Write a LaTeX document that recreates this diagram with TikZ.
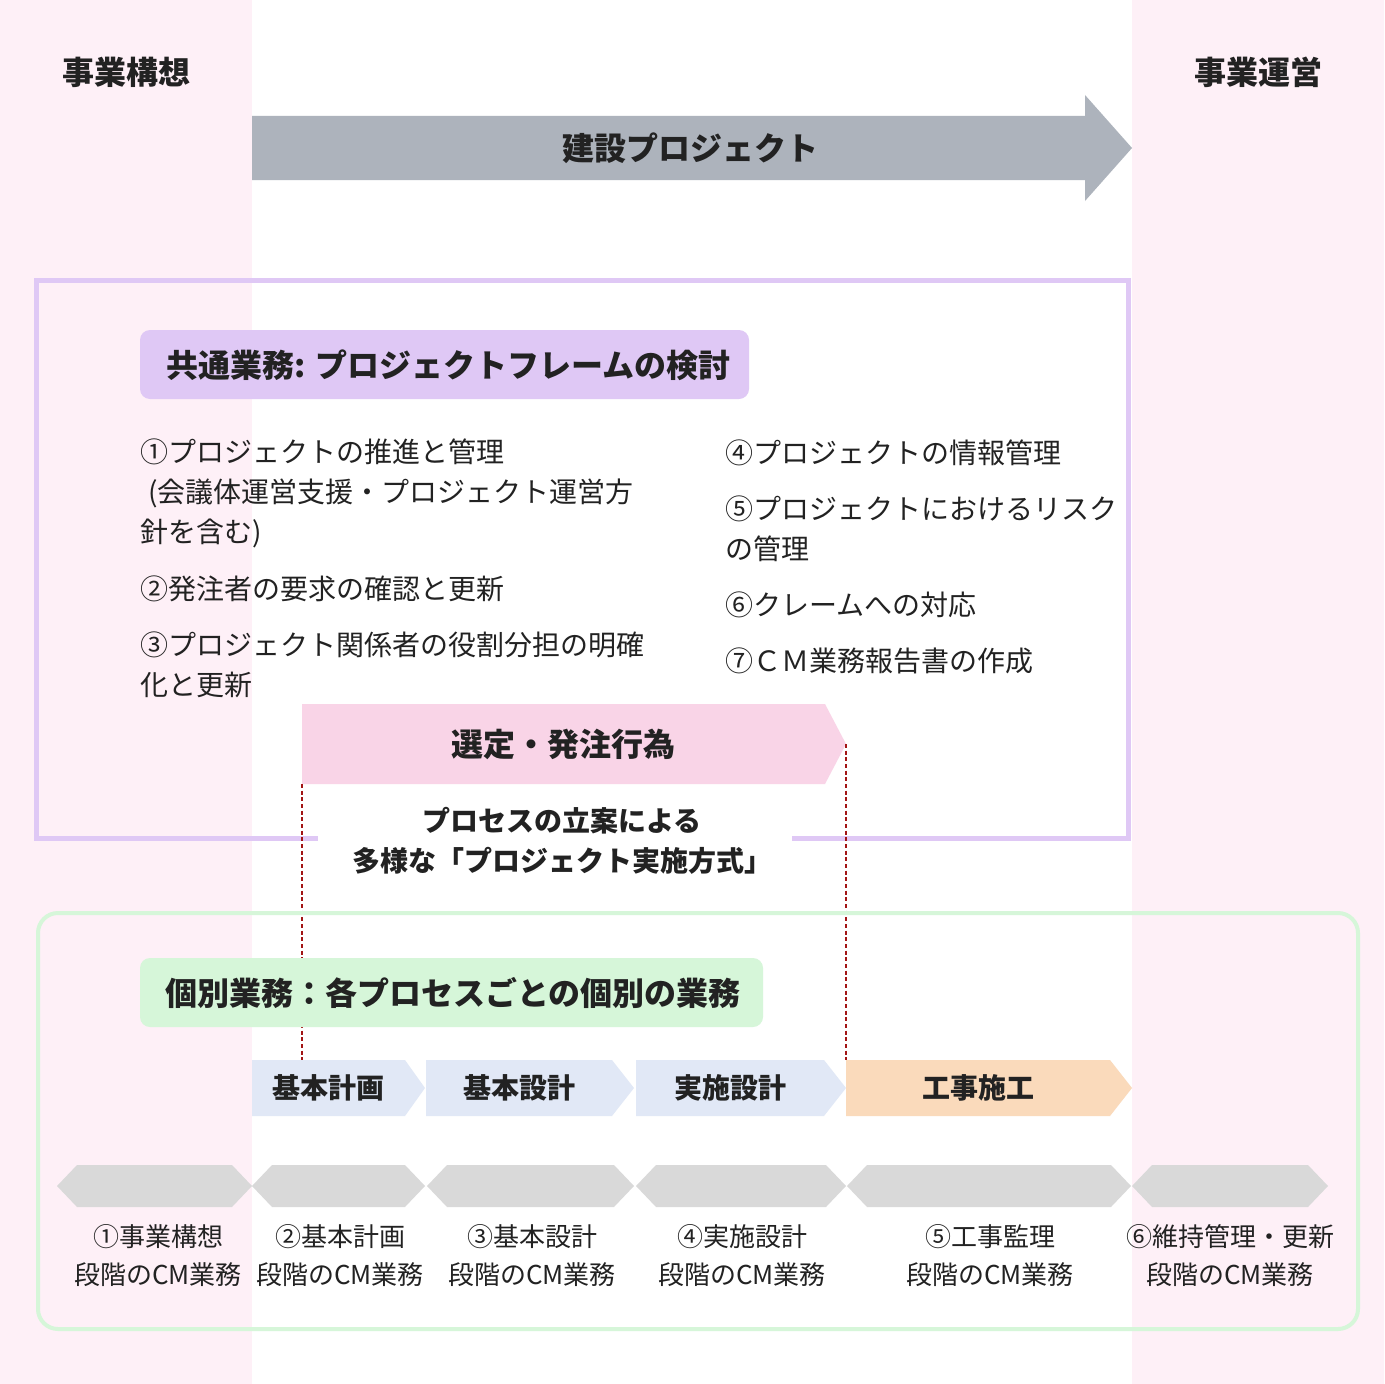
\documentclass[tikz,border=0pt]{standalone}
\usepackage{fontspec}
\setmainfont{Noto Sans CJK JP}
\definecolor{pinkbg}{HTML}{FEF0F7}
\definecolor{arrowgray}{HTML}{ADB3BC}
\definecolor{lilac}{HTML}{DFC8F5}
\definecolor{pinkchev}{HTML}{F9D4E7}
\definecolor{mint}{HTML}{D6F6D9}
\definecolor{bluechev}{HTML}{E1E8F6}
\definecolor{peach}{HTML}{FADABB}
\definecolor{hexgray}{HTML}{D9D9D9}
\definecolor{dotred}{HTML}{A31515}
\definecolor{ink}{HTML}{222222}
\tikzset{
  headtext/.style={font=\fontsize{24}{30}\selectfont\bfseries, text=ink, inner sep=0pt, align=center},
  itemtext/.style={font=\fontsize{21}{30}\selectfont, text=ink, inner sep=0pt, align=left, anchor=west},
  stagetext/.style={font=\fontsize{21}{26}\selectfont\bfseries, text=ink, inner sep=0pt},
  cmtext/.style={font=\fontsize{19.5}{28.5}\selectfont, text=ink, inner sep=0pt, align=center},
  guide/.style={dotred, line width=1.1pt, dash pattern=on 3pt off 2pt},
}
\begin{document}
\begin{tikzpicture}[x=0.75pt,y=0.75pt,yscale=-1,xscale=1]
\useasboundingbox (0,0) rectangle (1384,1384);
%Shape: Rectangle [background]
\fill[white] (0,0) rectangle (1384,1384);
\fill[pinkbg] (0,0) rectangle (252,1384);
\fill[pinkbg] (1132,0) rectangle (1384,1384);
% Text Node
\node[headtext] (kousou) at (126,72) {事業構想};
\node[headtext] (unei) at (1258,72) {事業運営};
%Shape: Right Arrow
\fill[arrowgray] (252,116) -- (1085,116) -- (1085,95) -- (1132,148) -- (1085,201) -- (1085,180) -- (252,180) -- cycle ;
\node[headtext] (kensetsu) at (690,148) {建設プロジェクト};
%Shape: Rectangle [common frame]
\draw[lilac, line width=3.8pt] (36.5,280.5) rectangle (1128.5,838.5);
%Shape: Rounded Rectangle
\fill[lilac, rounded corners=7.5pt] (140,330) rectangle (749,399);
\node[headtext, anchor=west] (kyoutsuu) at (166,365) {共通業務: プロジェクトフレームの検討};
% Text Node
\node[itemtext] (k1) at (140,493) {①プロジェクトの推進と管理\\\hspace*{6pt}(会議体運営支援・プロジェクト運営方\\針を含む)};
\node[itemtext] (k2) at (140,589) {②発注者の要求の確認と更新};
\node[itemtext] (k3) at (140,665) {③プロジェクト関係者の役割分担の明確\\化と更新};
\node[itemtext] (k4) at (725,453) {④プロジェクトの情報管理};
\node[itemtext] (k5) at (725,529) {⑤プロジェクトにおけるリスク\\の管理};
\node[itemtext] (k6) at (725,605) {⑥クレームへの対応};
\node[itemtext] (k7) at (725,661) {⑦ＣＭ業務報告書の作成};
%Shape: Pentagon [selection]
\fill[pinkchev] (302,704) -- (825,704) -- (846,744) -- (825,784) -- (302,784) -- cycle ;
\node[headtext] (sentei) at (563,744) {選定・発注行為};
%Shape: Rectangle [gap in frame]
\fill[white] (318,826) rectangle (792,852);
\node[headtext, font=\fontsize{21}{30}\selectfont\bfseries] (houshiki) at (562,841) {プロセスの立案による\\多様な「プロジェクト実施方式」};
%Straight Lines [dotted guides]
\draw[guide] (302,784) -- (302,1060);
\draw[guide] (846,744) -- (846,1060);
%Shape: Rounded Rectangle [individual frame]
\draw[mint, line width=3pt, rounded corners=15pt] (38,913) rectangle (1358,1329);
\fill[mint, rounded corners=7.5pt] (140,958) rectangle (763,1027);
\node[headtext, anchor=west] (kobetsu) at (165,993) {個別業務：各プロセスごとの個別の業務};
%Shape: Pentagons [stages]
\fill[bluechev] (252,1060) -- (405,1060) -- (425,1088) -- (405,1116) -- (252,1116) -- cycle ;
\fill[bluechev] (426,1060) -- (612,1060) -- (634,1088) -- (612,1116) -- (426,1116) -- cycle ;
\fill[bluechev] (636,1060) -- (824,1060) -- (846,1088) -- (824,1116) -- (636,1116) -- cycle ;
\fill[peach] (846,1060) -- (1110,1060) -- (1132,1088) -- (1110,1116) -- (846,1116) -- cycle ;
\node[stagetext] (keikaku) at (328,1088) {基本計画};
\node[stagetext] (sekkei) at (519,1088) {基本設計};
\node[stagetext] (jisshi) at (730,1088) {実施設計};
\node[stagetext] (sekou) at (978,1088) {工事施工};
%Shape: Hexagons [CM phases]
\foreach \l/\r in {57/252, 252/425, 427/634, 636/846, 847/1131, 1132/1328}{
  \fill[hexgray] (\l,1186) -- (\l+20,1165) -- (\r-20,1165) -- (\r,1186) -- (\r-20,1207) -- (\l+20,1207) -- cycle ;
}
% Text Node
\node[cmtext] (cm1) at (158,1256) {①事業構想\\段階のCM業務};
\node[cmtext] (cm2) at (340,1256) {②基本計画\\段階のCM業務};
\node[cmtext] (cm3) at (532,1256) {③基本設計\\段階のCM業務};
\node[cmtext] (cm4) at (742,1256) {④実施設計\\段階のCM業務};
\node[cmtext] (cm5) at (990,1256) {⑤工事監理\\段階のCM業務};
\node[cmtext] (cm6) at (1230,1256) {⑥維持管理・更新\\段階のCM業務};
\end{tikzpicture}
\end{document}
